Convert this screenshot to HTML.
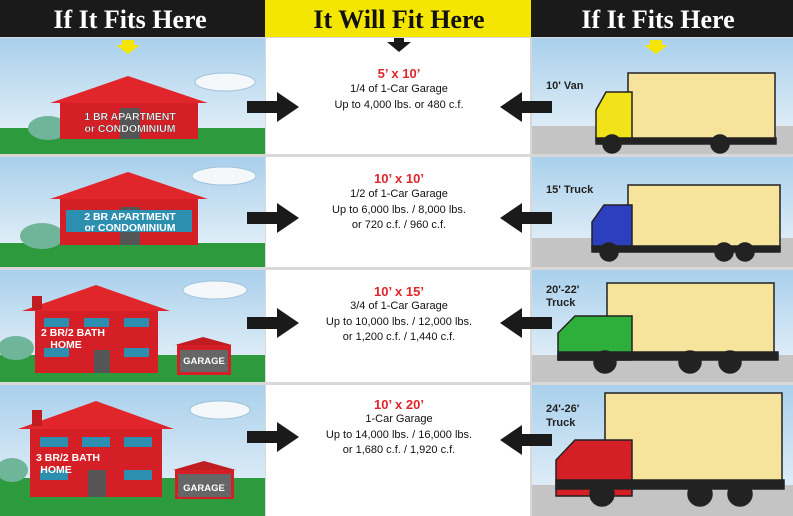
<!DOCTYPE html>
<html><head><meta charset="utf-8"><style>
html,body{margin:0;padding:0;background:#fff;width:793px;height:516px;overflow:hidden}
svg{display:block}
</style></head><body>
<svg width="793" height="516" viewBox="0 0 793 516" xmlns="http://www.w3.org/2000/svg" font-family="Liberation Sans, Arial, sans-serif">
<defs>
<linearGradient id="sky" x1="0" y1="0" x2="0" y2="1">
<stop offset="0" stop-color="#a9d0ec"/><stop offset="1" stop-color="#eef5fa"/></linearGradient>
<g id="arrR"><rect x="0" y="-6" width="32" height="12" fill="#1a1a1a"/><polygon points="30,-15 52,0 30,15" fill="#1a1a1a"/></g>
</defs>
<rect width="793" height="516" fill="#d8d8d8"/>
<rect x="0" y="0" width="265" height="37" fill="#1a1a1a"/>
<rect x="265" y="0" width="266" height="37" fill="#f5e600"/>
<rect x="531" y="0" width="262" height="37" fill="#1a1a1a"/>
<g font-family="Liberation Serif, serif" font-weight="bold" font-size="26" text-anchor="middle">
<text x="130" y="28" fill="#fff">If It Fits Here</text>
<text x="399" y="28" fill="#111">It Will Fit Here</text>
<text x="658" y="28" fill="#fff">If It Fits Here</text>
</g>
<g>
<rect x="0" y="38" width="265" height="116" fill="url(#sky)"/><rect x="0" y="128" width="265" height="26" fill="#2e9a3e"/>
<rect x="0" y="157" width="265" height="110" fill="url(#sky)"/><rect x="0" y="243" width="265" height="24" fill="#2e9a3e"/>
<rect x="0" y="270" width="265" height="112" fill="url(#sky)"/><rect x="0" y="355" width="265" height="27" fill="#2e9a3e"/>
<rect x="0" y="385" width="265" height="131" fill="url(#sky)"/><rect x="0" y="478" width="265" height="38" fill="#2e9a3e"/>
<rect x="266" y="38" width="264" height="116" fill="#fff"/>
<rect x="266" y="157" width="264" height="110" fill="#fff"/>
<rect x="266" y="270" width="264" height="112" fill="#fff"/>
<rect x="266" y="385" width="264" height="131" fill="#fff"/>
<rect x="532" y="38" width="261" height="116" fill="url(#sky)"/><rect x="532" y="126" width="261" height="28" fill="#c4c4c4"/>
<rect x="532" y="157" width="261" height="110" fill="url(#sky)"/><rect x="532" y="238" width="261" height="29" fill="#c4c4c4"/>
<rect x="532" y="270" width="261" height="112" fill="url(#sky)"/><rect x="532" y="355" width="261" height="27" fill="#c4c4c4"/>
<rect x="532" y="385" width="261" height="131" fill="url(#sky)"/><rect x="532" y="485" width="261" height="31" fill="#c4c4c4"/>
</g>
<polygon points="122,40 134,40 134,45 140,45 128,54 116,45 122,45" fill="#f5e600"/>
<polygon points="394,38 404,38 404,42 411,42 399,52 387,42 394,42" fill="#1a1a1a"/>
<polygon points="650,40 662,40 662,45 668,45 656,54 644,45 650,45" fill="#f5e600"/>
<g fill="#f4f8fb" stroke="#9fc3dc" stroke-width="1">
<ellipse cx="225" cy="82" rx="30" ry="9"/><ellipse cx="224" cy="176" rx="32" ry="9"/>
<ellipse cx="215" cy="290" rx="32" ry="9"/><ellipse cx="220" cy="410" rx="30" ry="9"/>
</g>
<g fill="#6fb59a">
<ellipse cx="48" cy="128" rx="20" ry="12"/><ellipse cx="42" cy="236" rx="22" ry="13"/>
<ellipse cx="16" cy="348" rx="18" ry="12"/><ellipse cx="12" cy="470" rx="16" ry="12"/>
</g>
<polygon points="50,103 128,76 208,103" fill="#e0252b"/>
<rect x="60" y="103" width="138" height="36" fill="#d41f26"/>
<rect x="120" y="108" width="20" height="31" fill="#555"/>
<g font-weight="bold" font-size="10.5" fill="#fff" text-anchor="middle" stroke="#333" stroke-width="0.3">
<text x="130" y="120">1 BR APARTMENT</text><text x="130" y="132">or CONDOMINIUM</text></g>
<polygon points="50,199 128,172 208,199" fill="#e0252b"/>
<rect x="60" y="199" width="138" height="46" fill="#d41f26"/>
<rect x="120" y="207" width="20" height="38" fill="#555"/>
<rect x="66" y="210" width="126" height="22" fill="#2d8fb0"/>
<g font-weight="bold" font-size="10.5" fill="#fff" text-anchor="middle">
<text x="130" y="220">2 BR APARTMENT</text><text x="130" y="231">or CONDOMINIUM</text></g>
<polygon points="22,311 96,285 170,311" fill="#e0252b"/>
<rect x="35" y="311" width="123" height="62" fill="#d41f26"/>
<rect x="32" y="296" width="10" height="14" fill="#c01c22"/>
<g fill="#2d8fb0"><rect x="44" y="318" width="25" height="9"/><rect x="84" y="318" width="25" height="9"/><rect x="124" y="318" width="25" height="9"/>
<rect x="44" y="348" width="25" height="9"/><rect x="124" y="348" width="25" height="9"/></g>
<rect x="94" y="350" width="16" height="23" fill="#555"/>
<g font-weight="bold" font-size="10.5" fill="#fff" text-anchor="middle"><text x="73" y="336">2 BR/2 BATH</text><text x="66" y="348">HOME</text></g>
<polygon points="175,345 203,337 232,345" fill="#c01c22"/>
<rect x="177" y="345" width="54" height="30" fill="#d41f26"/><rect x="180" y="350" width="48" height="22" fill="#666"/>
<text x="204" y="364" font-weight="bold" font-size="9.5" fill="#fff" text-anchor="middle">GARAGE</text>
<polygon points="18,429 96,401 174,429" fill="#e0252b"/>
<rect x="30" y="429" width="132" height="68" fill="#d41f26"/>
<rect x="32" y="410" width="10" height="16" fill="#c01c22"/>
<g fill="#2d8fb0"><rect x="40" y="437" width="28" height="10"/><rect x="82" y="437" width="28" height="10"/><rect x="124" y="437" width="28" height="10"/>
<rect x="40" y="470" width="28" height="10"/><rect x="124" y="470" width="28" height="10"/></g>
<rect x="88" y="470" width="18" height="27" fill="#555"/>
<g font-weight="bold" font-size="10.5" fill="#fff" text-anchor="middle"><text x="68" y="461">3 BR/2 BATH</text><text x="56" y="473">HOME</text></g>
<polygon points="173,470 204,461 236,470" fill="#c01c22"/>
<rect x="175" y="470" width="59" height="29" fill="#d41f26"/><rect x="178" y="474" width="53" height="23" fill="#666"/>
<text x="204" y="491" font-weight="bold" font-size="9.5" fill="#fff" text-anchor="middle">GARAGE</text>
<use href="#arrR" transform="translate(247,107)"/>
<use href="#arrR" transform="translate(247,218)"/>
<use href="#arrR" transform="translate(247,323)"/>
<use href="#arrR" transform="translate(247,437)"/>
<use href="#arrR" transform="translate(552,107) scale(-1,1)"/>
<use href="#arrR" transform="translate(552,218) scale(-1,1)"/>
<use href="#arrR" transform="translate(552,323) scale(-1,1)"/>
<use href="#arrR" transform="translate(552,440) scale(-1,1)"/>
<g text-anchor="middle" font-size="11" fill="#111">
<text x="399" y="78" font-size="13" font-weight="bold" fill="#e0252b">5’ x 10’</text>
<text x="399" y="92">1/4 of 1-Car Garage</text><text x="399" y="108">Up to 4,000 lbs. or 480 c.f.</text>
<text x="399" y="183" font-size="13" font-weight="bold" fill="#e0252b">10’ x 10’</text>
<text x="399" y="197">1/2 of 1-Car Garage</text><text x="399" y="213">Up to 6,000 lbs. / 8,000 lbs.</text><text x="399" y="228">or 720 c.f. / 960 c.f.</text>
<text x="399" y="296" font-size="13" font-weight="bold" fill="#e0252b">10’ x 15’</text>
<text x="399" y="309">3/4 of 1-Car Garage</text><text x="399" y="325">Up to 10,000 lbs. / 12,000 lbs.</text><text x="399" y="340">or 1,200 c.f. / 1,440 c.f.</text>
<text x="399" y="409" font-size="13" font-weight="bold" fill="#e0252b">10’ x 20’</text>
<text x="399" y="422">1-Car Garage</text><text x="399" y="438">Up to 14,000 lbs. / 16,000 lbs.</text><text x="399" y="453">or 1,680 c.f. / 1,920 c.f.</text>
</g>
<g font-weight="bold" font-size="11" fill="#222">
<text x="546" y="89">10' Van</text><text x="546" y="193">15' Truck</text>
<text x="546" y="293">20'-22'</text><text x="546" y="306">Truck</text>
<text x="546" y="412">24'-26'</text><text x="546" y="426">Truck</text>
</g>
<g stroke="#222" stroke-width="1.5">
<rect x="628" y="73" width="147" height="66" fill="#f6e49c"/>
<path d="M596,140 L596,110 L606,92 L632,92 L632,140 Z" fill="#f2e21a"/>
<rect x="596" y="138" width="180" height="6" fill="#222"/>
<circle cx="612" cy="144" r="9" fill="#222"/><circle cx="720" cy="144" r="9" fill="#222"/>
<rect x="628" y="185" width="152" height="64" fill="#f6e49c"/>
<path d="M592,248 L592,222 L604,205 L632,205 L632,248 Z" fill="#2c3fbf"/>
<rect x="592" y="246" width="188" height="6" fill="#222"/>
<circle cx="609" cy="252" r="9" fill="#222"/><circle cx="724" cy="252" r="9" fill="#222"/><circle cx="745" cy="252" r="9" fill="#222"/>
<rect x="607" y="283" width="167" height="72" fill="#f6e49c"/>
<path d="M558,360 L558,333 L575,316 L632,316 L632,360 Z" fill="#2eae3a"/>
<rect x="558" y="352" width="220" height="8" fill="#222"/>
<circle cx="605" cy="362" r="11" fill="#222"/><circle cx="690" cy="362" r="11" fill="#222"/><circle cx="730" cy="362" r="11" fill="#222"/>
<rect x="605" y="393" width="177" height="88" fill="#f6e49c"/>
<path d="M556,496 L556,460 L575,440 L632,440 L632,496 Z" fill="#d41f26"/>
<rect x="556" y="480" width="228" height="9" fill="#222"/>
<circle cx="602" cy="494" r="12" fill="#222"/><circle cx="700" cy="494" r="12" fill="#222"/><circle cx="740" cy="494" r="12" fill="#222"/>
</g>
</svg>
</body></html>
